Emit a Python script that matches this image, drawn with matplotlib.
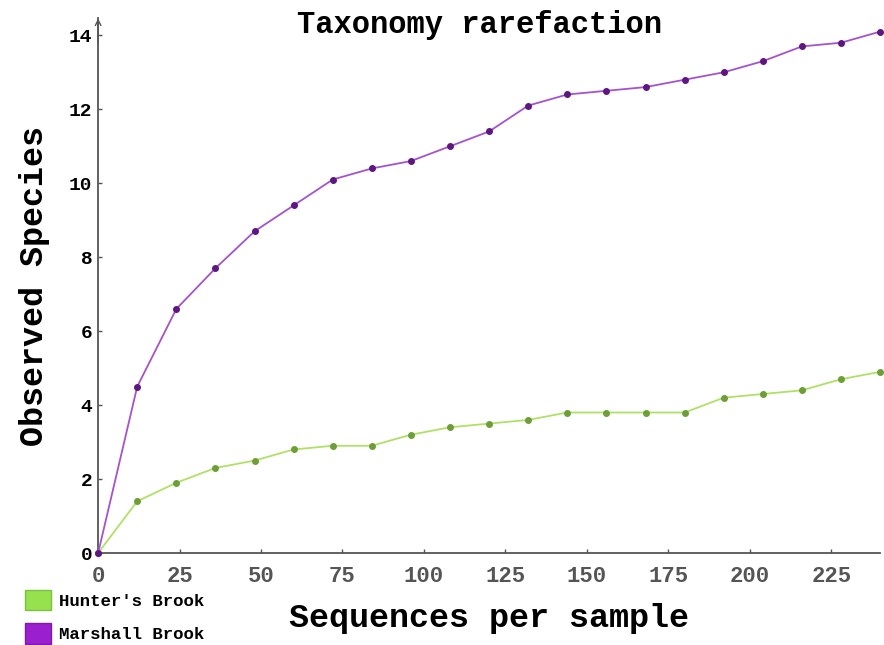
import matplotlib.pyplot as plt
from matplotlib.patches import Patch

seqs = [0, 12, 24, 36, 48, 60, 72, 84, 96, 108, 120, 132, 144, 156, 168,
        180, 192, 204, 216, 228, 240]
marshall = [0, 4.5, 6.6, 7.7, 8.7, 9.4, 10.1, 10.4, 10.6, 11.0, 11.4, 12.1,
            12.4, 12.5, 12.6, 12.8, 13.0, 13.3, 13.7, 13.8, 14.1]
hunter = [0, 1.4, 1.9, 2.3, 2.5, 2.8, 2.9, 2.9, 3.2, 3.4, 3.5, 3.6, 3.8,
          3.8, 3.8, 3.8, 4.2, 4.3, 4.4, 4.7, 4.9]
xticks = [0, 25, 50, 75, 100, 125, 150, 175, 200, 225]
yticks = [0, 2, 4, 6, 8, 10, 12, 14]
names = ["Hunter's Brook", "Marshall Brook"]

plt.rcParams['font.family'] = ['Liberation Mono', 'DejaVu Sans Mono']
plt.rcParams['font.weight'] = 'bold'

fig = plt.figure(figsize=(8.84, 6.45), dpi=100)
ax = fig.add_axes((0.111, 0.1426, 0.8846, 0.829))

ax.plot(seqs, hunter, color='#b0e066', lw=1.3, marker='o', ms=4,
        mfc='#6e9e38', mec='#6e9e38', clip_on=False, zorder=3)
ax.plot(seqs, marshall, color='#a552cf', lw=1.3, marker='o', ms=4,
        mfc='#5e1780', mec='#5e1780', clip_on=False, zorder=3)

ax.set_xlim(0, 240)
ax.set_ylim(0, 14.46)
ax.set_xticks(xticks)
ax.set_yticks(yticks)
for s in ('top', 'right'):
    ax.spines[s].set_visible(False)
for s in ('left', 'bottom'):
    ax.spines[s].set_color('#555555')
    ax.spines[s].set_linewidth(1.3)
ax.annotate('', xy=(0, 1.005), xytext=(0, 0.95), xycoords='axes fraction',
            arrowprops=dict(arrowstyle='->', color='#555555', lw=1.0))

ax.tick_params(axis='x', direction='in', length=3, width=1, color='#555555',
               labelsize=16, labelcolor='#555555', pad=9)
ax.tick_params(axis='y', direction='in', length=3, width=1, color='#555555',
               labelsize=14, labelcolor='black', pad=4)

# title sits inside the plot area, near the top edge
fig.text(480 / 884, 1 - 25 / 645, 'Taxonomy rarefaction', fontsize=22,
         fontweight='bold', ha='center', va='center')
ax.set_xlabel('Sequences per sample', fontsize=24, fontweight='bold',
              labelpad=12)
ax.set_ylabel('Observed Species', fontsize=24, fontweight='bold', labelpad=14)

handles = [Patch(facecolor='#96e24e', edgecolor='#7cc040'),
           Patch(facecolor='#9a1fcf', edgecolor='#8018b0')]
fig.legend(handles, names, loc='lower left', bbox_to_anchor=(0.011, -0.022),
           frameon=False, fontsize=12.5, handlelength=1.45, handleheight=1.45,
           labelspacing=0.72, handletextpad=0.5)

fig.savefig('out.png', dpi=100)
